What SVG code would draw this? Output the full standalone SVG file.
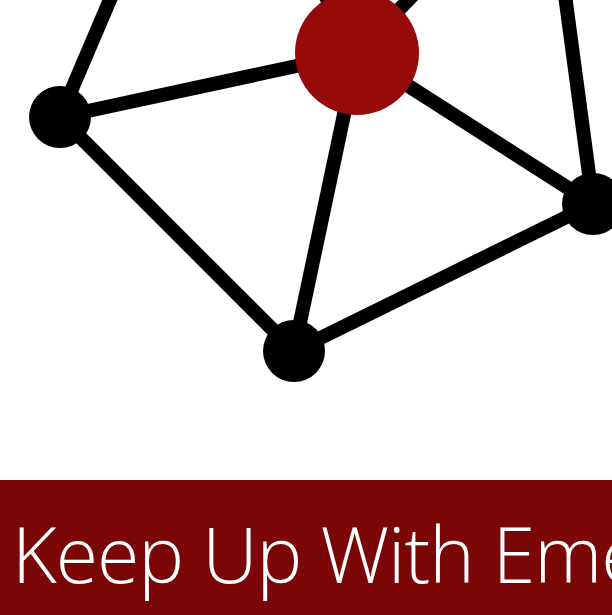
<svg xmlns="http://www.w3.org/2000/svg" width="612" height="615" viewBox="0 0 612 615">
<style>
.edge{stroke:#000;stroke-width:14;stroke-linecap:butt;fill:none}
.node{fill:#000}
.title{font-family:"Open Sans","Noto Sans","Liberation Sans",sans-serif;font-weight:300;font-size:77px;letter-spacing:-1px;fill:#fff}
</style>
<rect width="612" height="615" fill="#fff"/>
<g id="connectors">
<line class="edge" x1="60" y1="117" x2="112" y2="-5"/>
<line class="edge" x1="60" y1="117" x2="357" y2="53"/>
<line class="edge" x1="60" y1="117" x2="294" y2="351"/>
<line class="edge" x1="357" y1="53" x2="294" y2="351"/>
<line class="edge" x1="357" y1="53" x2="593" y2="204"/>
<line class="edge" x1="357" y1="53" x2="418" y2="-10"/>
<line class="edge" x1="357" y1="53" x2="322" y2="-10"/>
<line class="edge" x1="593" y1="204" x2="565" y2="-5"/>
<line class="edge" x1="593" y1="204" x2="294" y2="351"/>
</g>
<g id="node-left"><circle class="node" cx="60" cy="117" r="31"/></g>
<g id="node-bottom"><circle class="node" cx="294" cy="351" r="31"/></g>
<g id="node-right"><circle class="node" cx="593" cy="204" r="31"/></g>
<g id="node-center"><circle cx="357" cy="53" r="62" fill="#960a0a"/></g>
<g id="banner">
<rect x="0" y="480" width="612" height="135" fill="#7a0606"/>
<text class="title" x="12" y="583">Keep Up With Eme</text>
</g>
</svg>
